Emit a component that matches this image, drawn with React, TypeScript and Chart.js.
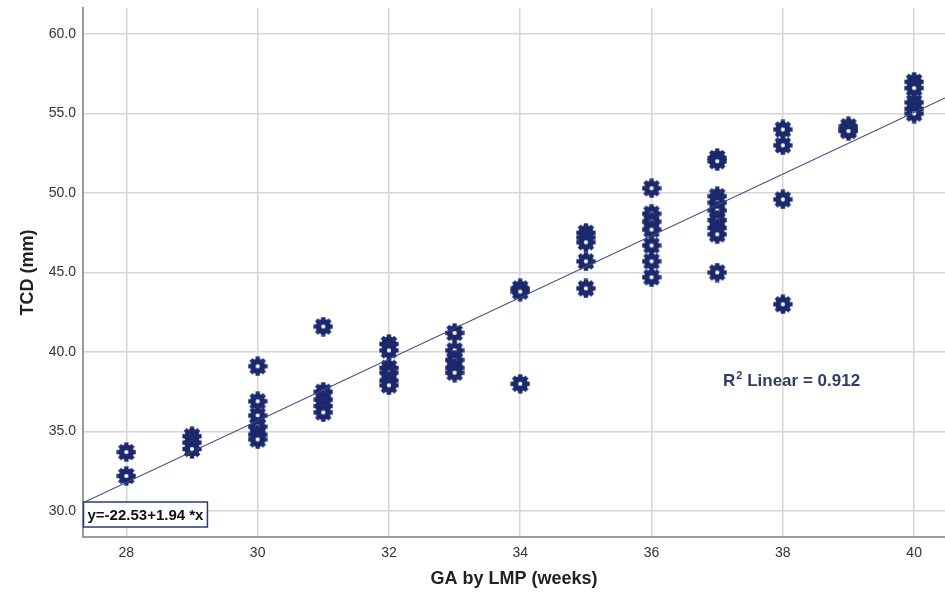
import React, { useEffect, useRef } from "react";
import { Chart, registerables } from "chart.js";

Chart.register(...registerables);

// ---- data ----
const weeks28 = [33.7, 32.2];
const weeks29 = [34.7, 34.3, 33.9];
const weeks30 = [39.1, 36.9, 36.0, 35.3, 34.8, 34.5];
const weeks31 = [41.6, 37.5, 37.0, 36.6, 36.2];
const weeks32 = [40.5, 40.1, 39.0, 38.7, 38.2, 37.9];
const weeks33 = [41.2, 40.1, 39.5, 39.0, 38.7];
const weeks34 = [44.0, 43.8, 38.0];
const weeks35 = [47.5, 47.2, 46.9, 45.7, 44.0];
const weeks36 = [50.3, 48.7, 48.2, 47.7, 46.7, 45.7, 44.7];
const weeks37 = [52.2, 52.0, 49.8, 49.4, 48.9, 48.3, 47.8, 47.4, 45.0];
const weeks38 = [54.0, 53.0, 49.6, 43.0];
const weeks39 = [54.2, 54.0, 53.9];
const weeks40 = [57.0, 56.6, 55.7, 55.3, 55.0];

const gaWeeks = [28, 29, 30, 31, 32, 33, 34, 35, 36, 37, 38, 39, 40];
const tcdByWeek = [weeks28, weeks29, weeks30, weeks31, weeks32, weeks33, weeks34, weeks35, weeks36, weeks37, weeks38, weeks39, weeks40];

const fitIntercept = -22.53;
const fitSlope = 1.94;
const rSquared = 0.912;

const xTicks = [28, 30, 32, 34, 36, 38, 40];
const yTicks = [30, 35, 40, 45, 50, 55, 60];
const xMin = 27.34;
const xMax = 40.47;
const yMin = 28.36;
const yMax = 61.64;

const NAVY = "#1c296c";

function makeGear(): HTMLCanvasElement {
  const c = document.createElement("canvas");
  c.width = 20;
  c.height = 20;
  const g = c.getContext("2d")!;
  g.translate(10, 10);
  g.fillStyle = NAVY;
  g.beginPath();
  g.arc(0, 0, 7.6, 0, Math.PI * 2);
  g.fill();
  for (let i = 0; i < 8; i++) {
    g.save();
    g.rotate((i * Math.PI) / 4);
    g.fillRect(-2.2, -9.6, 4.4, 5);
    g.restore();
  }
  g.fillStyle = "#ffffff";
  g.beginPath();
  g.arc(0, 0, 2.1, 0, Math.PI * 2);
  g.fill();
  return c;
}

const annotationPlugin = {
  id: "spssAnnotations",
  afterDatasetsDraw(chart: any) {
    const { ctx, chartArea } = chart;
    ctx.save();
    // equation box
    const eq = `y=${fitIntercept.toFixed(2)}+${fitSlope.toFixed(2)} *x`;
    ctx.font = "bold 15px Arial, 'Liberation Sans', sans-serif";
    const w = ctx.measureText(eq).width;
    const bx = chartArea.left + 0.5;
    const by = chartArea.bottom - 35;
    const bw = w + 8;
    const bh = 25;
    ctx.fillStyle = "#ffffff";
    ctx.fillRect(bx, by, bw, bh);
    ctx.strokeStyle = "#2b3a7c";
    ctx.lineWidth = 1.5;
    ctx.strokeRect(bx, by, bw, bh);
    ctx.fillStyle = "#111111";
    ctx.textBaseline = "middle";
    ctx.textAlign = "left";
    ctx.fillText(eq, bx + 4, by + bh / 2 + 1);

    // R2 label
    const cx = chartArea.left + (chartArea.right - chartArea.left) * 0.822;
    const cy = chartArea.top + (chartArea.bottom - chartArea.top) * 0.706;
    const color = "#2f3b6e";
    ctx.fillStyle = color;
    const big = "bold 17px Arial, 'Liberation Sans', sans-serif";
    const small = "bold 11px Arial, 'Liberation Sans', sans-serif";
    ctx.font = big;
    const wR = ctx.measureText("R").width;
    const rest = ` Linear = ${rSquared.toFixed(3)}`;
    const wRest = ctx.measureText(rest).width;
    ctx.font = small;
    const w2 = ctx.measureText("2").width;
    const total = wR + w2 + 1 + wRest;
    let x = cx - total / 2;
    ctx.font = big;
    ctx.fillText("R", x, cy);
    x += wR + 1;
    ctx.font = small;
    ctx.fillText("2", x, cy - 6);
    x += w2;
    ctx.font = big;
    ctx.fillText(rest, x, cy);
    ctx.restore();
  },
};

export default function App() {
  const ref = useRef<HTMLCanvasElement | null>(null);

  useEffect(() => {
    document.body.style.margin = "0";
    const gear = makeGear();
    const points: { x: number; y: number }[] = [];
    gaWeeks.forEach((wk, i) => {
      tcdByWeek[i].forEach((v) => points.push({ x: wk, y: v }));
    });
    const fitLine = [
      { x: xMin, y: fitIntercept + fitSlope * xMin },
      { x: xMax, y: fitIntercept + fitSlope * xMax },
    ];

    const tickFont = { family: "Arial, 'Liberation Sans', sans-serif", size: 14 };
    const titleFont = { family: "Arial, 'Liberation Sans', sans-serif", size: 18, weight: "bold" as const };

    const chart = new Chart(ref.current!, {
      type: "scatter",
      data: {
        datasets: [
          {
            type: "line",
            data: fitLine,
            borderColor: "#3b4784",
            borderWidth: 1.2,
            pointRadius: 0,
            fill: false,
          } as any,
          {
            data: points,
            pointStyle: gear as any,
            pointRadius: 10,
            backgroundColor: NAVY,
            borderColor: NAVY,
          },
        ],
      },
      options: {
        animation: false,
        responsive: false,
        devicePixelRatio: 1,
        layout: { autoPadding: false, padding: { top: 8, left: 0, right: 0, bottom: 0 } },
        plugins: { legend: { display: false }, tooltip: { enabled: false } },
        scales: {
          x: {
            type: "linear",
            min: xMin,
            max: xMax,
            afterBuildTicks: (s: any) => {
              s.ticks = xTicks.map((v) => ({ value: v }));
            },
            afterFit: (s: any) => {
              s.height = 64;
              s.paddingLeft = 0;
              s.paddingRight = 0;
            },
            ticks: { font: tickFont, color: "#333333", padding: 8, callback: (v: any) => String(v) },
            grid: { color: "#d6d6d6", lineWidth: 1.5, drawTicks: false },
            border: { color: "#9a9a9a", width: 2 },
            title: { display: true, text: "GA by LMP (weeks)", font: titleFont, color: "#222222", padding: { top: 0, bottom: 11 } },
          },
          y: {
            type: "linear",
            min: yMin,
            max: yMax,
            afterBuildTicks: (s: any) => {
              s.ticks = yTicks.map((v) => ({ value: v }));
            },
            afterFit: (s: any) => {
              s.width = 83;
              s.paddingTop = 0;
              s.paddingBottom = 0;
            },
            ticks: { font: tickFont, color: "#333333", padding: 7, callback: (v: any) => Number(v).toFixed(1) },
            grid: { color: "#d6d6d6", lineWidth: 1.5, drawTicks: false },
            border: { color: "#9a9a9a", width: 2 },
            title: { display: true, text: "TCD (mm)", font: titleFont, color: "#222222", padding: { top: 17, bottom: 0 } },
          },
        },
      },
      plugins: [annotationPlugin],
    });
    return () => chart.destroy();
  }, []);

  return (
    <div style={{ position: "absolute", left: 0, top: 0, width: 945, height: 601, background: "#ffffff" }}>
      <canvas ref={ref} width={945} height={601} />
    </div>
  );
}
